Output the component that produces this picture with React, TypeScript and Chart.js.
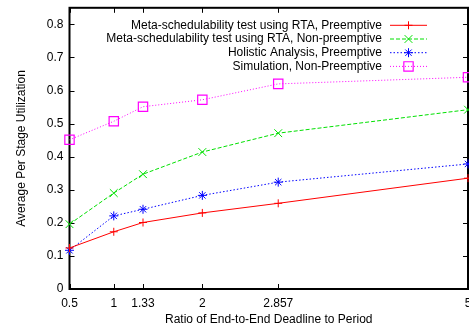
import React, { useEffect, useRef } from 'react';
import { Chart, registerables } from 'chart.js';
import { drawPoint } from 'chart.js/helpers';

Chart.register(...registerables);

// ---- data ----
const ratios = [0.5, 1, 1.33, 2, 2.857, 5];
const xTickLabels = ['0.5', '1', '1.33', '2', '2.857', '5'];
const yTickValues = [0, 0.1, 0.2, 0.3, 0.4, 0.5, 0.6, 0.7, 0.8];
const yTickLabels = ['0', '0.1', '0.2', '0.3', '0.4', '0.5', '0.6', '0.7', '0.8'];

const rtaPreemptive = [0.124, 0.173, 0.201, 0.23, 0.259, 0.335];
const rtaNonPreemptive = [0.196, 0.29, 0.347, 0.414, 0.471, 0.542];
const holisticPreemptive = [0.117, 0.221, 0.241, 0.283, 0.323, 0.378];
const simulationNonPreemptive = [0.451, 0.507, 0.551, 0.572, 0.62, 0.64];

const seriesLabels = [
  'Meta-schedulability test using RTA, Preemptive',
  'Meta-schedulability test using RTA, Non-preemptive',
  'Holistic Analysis, Preemptive',
  'Simulation, Non-Preemptive',
];

const FONT = '"Liberation Sans", Arial, Helvetica, sans-serif';

const toPoints = (vals: number[]) => ratios.map((x, i) => ({ x, y: vals[i] }));

const framePlugin = {
  id: 'gnuFrame',
  beforeDatasetsDraw(chart: any) {
    const { ctx, chartArea: a, scales } = chart;
    const tick = 5;
    ctx.save();
    ctx.strokeStyle = '#000';
    ctx.lineWidth = 1;
    ctx.beginPath();
    scales.x.ticks.forEach((t: any) => {
      const px = Math.round(scales.x.getPixelForValue(t.value)) + 0.5;
      ctx.moveTo(px, a.bottom);
      ctx.lineTo(px, a.bottom - tick);
      ctx.moveTo(px, a.top);
      ctx.lineTo(px, a.top + tick);
    });
    scales.y.ticks.forEach((t: any) => {
      const py = Math.round(scales.y.getPixelForValue(t.value)) + 0.5;
      ctx.moveTo(a.left, py);
      ctx.lineTo(a.left + tick, py);
      ctx.moveTo(a.right, py);
      ctx.lineTo(a.right - tick, py);
    });
    ctx.stroke();
    ctx.lineWidth = 2;
    ctx.strokeRect(a.left, a.top, a.right - a.left, a.bottom - a.top);
    ctx.restore();
  },
  afterDraw(chart: any) {
    const { ctx, chartArea: a } = chart;
    const textRight = a.right - 86;
    const lineStart = a.right - 78;
    const lineEnd = a.right - 41;
    const markX = (lineStart + lineEnd) / 2;
    ctx.save();
    ctx.font = '12px ' + FONT;
    ctx.textAlign = 'right';
    ctx.textBaseline = 'middle';
    chart.data.datasets.forEach((ds: any, i: number) => {
      const y = a.top + 17.5 + i * 13.7;
      ctx.fillStyle = '#000';
      ctx.fillText(ds.label, textRight, y);
      ctx.save();
      ctx.strokeStyle = ds.borderColor;
      ctx.lineWidth = ds.borderWidth;
      ctx.setLineDash(ds.borderDash || []);
      ctx.beginPath();
      ctx.moveTo(lineStart, y);
      ctx.lineTo(lineEnd, y);
      ctx.stroke();
      ctx.restore();
      ctx.save();
      ctx.strokeStyle = ds.pointBorderColor;
      ctx.fillStyle = 'rgba(0,0,0,0)';
      ctx.lineWidth = ds.pointBorderWidth;
      drawPoint(ctx, { pointStyle: ds.pointStyle, radius: ds.pointRadius, borderWidth: ds.pointBorderWidth, rotation: 0 }, markX, y);
      ctx.restore();
    });
    ctx.restore();
  },
};

export default function App() {
  const ref = useRef<HTMLCanvasElement | null>(null);

  useEffect(() => {
    if (!ref.current) return;
    const mk = (label: string, vals: number[], color: string, dash: number[], style: string, radius: number, pbw: number, lineColor?: string) => ({
      label,
      data: toPoints(vals),
      borderColor: lineColor || color,
      borderWidth: 1,
      borderDash: dash,
      pointStyle: style,
      pointRadius: radius,
      pointBorderColor: color,
      pointBackgroundColor: 'rgba(0,0,0,0)',
      pointBorderWidth: pbw,
      tension: 0,
      fill: false,
      clip: false as any,
    });
    const chart = new Chart(ref.current, {
      type: 'line',
      data: {
        datasets: [
          mk(seriesLabels[0], rtaPreemptive, '#ff0000', [], 'cross', 4, 1),
          mk(seriesLabels[1], rtaNonPreemptive, '#00e000', [4, 2], 'crossRot', 5.5, 1),
          mk(seriesLabels[2], holisticPreemptive, '#0000ff', [1.5, 2], 'star', 4.5, 1),
          mk(seriesLabels[3], simulationNonPreemptive, '#ff00ff', [1, 2], 'rect', 6.6, 1.2),
        ],
      },
      options: {
        animation: false,
        responsive: false,
        maintainAspectRatio: false,
        layout: { padding: { left: 0, right: 12, top: 2.5, bottom: 0 } },
        plugins: { legend: { display: false }, tooltip: { enabled: false } },
        scales: {
          x: {
            type: 'linear',
            min: 0.5,
            max: 5,
            afterBuildTicks: (s: any) => {
              s.ticks = ratios.map((v) => ({ value: v }));
            },
            afterFit: (s: any) => {
              s.height = 42;
              s.paddingLeft = 0;
              s.paddingRight = 0;
            },
            grid: { display: false, drawTicks: false },
            border: { display: false },
            ticks: {
              autoSkip: false,
              maxRotation: 0,
              padding: 7,
              color: '#000',
              font: { family: FONT, size: 12 },
              callback: (v: any) => xTickLabels[ratios.indexOf(Number(v))] ?? '',
            },
            title: {
              display: true,
              text: 'Ratio of End-to-End Deadline to Period',
              color: '#000',
              font: { family: FONT, size: 12 },
              padding: { top: 0, bottom: 4 },
            },
          },
          y: {
            type: 'linear',
            min: 0,
            max: 0.85,
            afterBuildTicks: (s: any) => {
              s.ticks = yTickValues.map((v) => ({ value: v }));
            },
            afterFit: (s: any) => {
              s.width = 69.5;
              s.paddingTop = 0;
              s.paddingBottom = 0;
            },
            grid: { display: false, drawTicks: false },
            border: { display: false },
            ticks: {
              padding: 6,
              color: '#000',
              font: { family: FONT, size: 12 },
              callback: (v: any) => {
                const idx = yTickValues.findIndex((t) => Math.abs(t - Number(v)) < 1e-9);
                return idx >= 0 ? yTickLabels[idx] : '';
              },
            },
            title: {
              display: true,
              text: 'Average Per Stage Utilization',
              color: '#000',
              font: { family: FONT, size: 12 },
              padding: { top: 14, bottom: 0 },
            },
          },
        },
      },
      plugins: [framePlugin as any],
    } as any);
    return () => chart.destroy();
  }, []);

  return (
    <div style={{ position: 'fixed', left: 0, top: 0, width: 469, height: 331, overflow: 'hidden', background: '#fff' }}>
      <canvas ref={ref} width={480} height={331} style={{ width: 480, height: 331, display: 'block' }} />
    </div>
  );
}
